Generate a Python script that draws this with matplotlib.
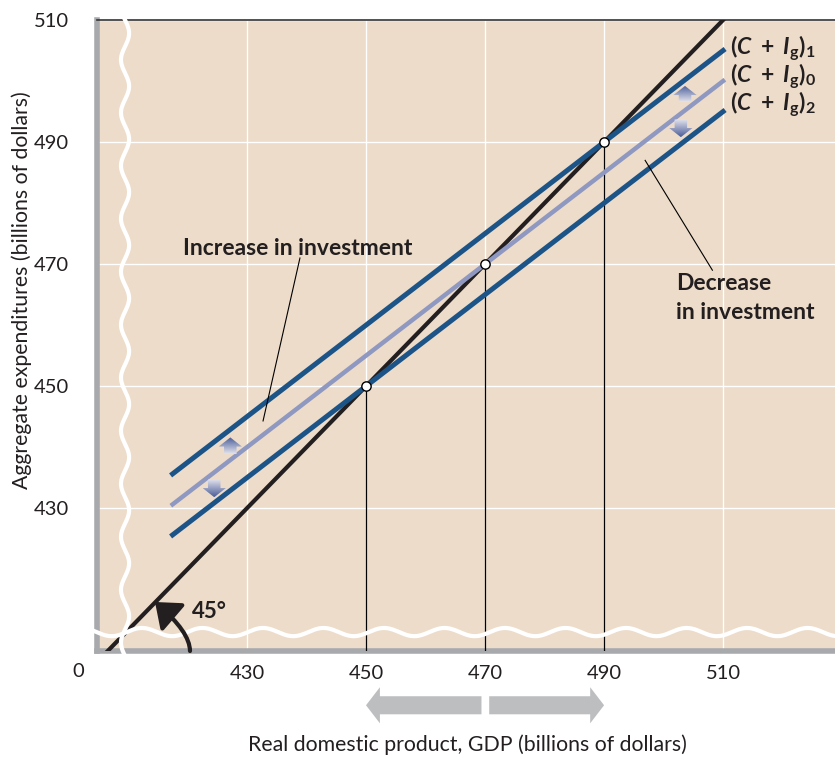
import numpy as np
import matplotlib.pyplot as plt
from matplotlib.patches import Polygon, FancyArrowPatch
from matplotlib.path import Path
from matplotlib.colors import LinearSegmentedColormap

plt.rcParams['font.family'] = ['Lato', 'DejaVu Sans']
plt.rcParams['mathtext.fontset'] = 'custom'
plt.rcParams['mathtext.rm'] = 'Lato'
plt.rcParams['mathtext.bf'] = 'Lato:bold'
plt.rcParams['mathtext.it'] = 'Lato:italic'
plt.rcParams['mathtext.bfit'] = 'Lato:bold:italic'

# data
gdp = [417.5, 510]
mpc = 0.75
base_eq = 470          # (C + Ig)0 crosses 45 deg line here
shift = 5              # vertical shift of the schedule
equilibria = [450, 470, 490]
x_ticks = [430, 450, 470, 490, 510]
y_ticks = [430, 450, 470, 490, 510]

BG = '#eddcc9'
DARK_BLUE = '#1c5488'
LIGHT_BLUE = '#8f98c0'
AX_GREY = '#a7a9ac'
INK = '#231f20'

fig = plt.figure(figsize=(8.35, 7.57), dpi=100)
ax = fig.add_axes([97 / 835, 106 / 757, 738 / 835, 631 / 757])
ax.set_facecolor(BG)

ax.spines['right'].set_visible(False)
ax.spines['top'].set_linewidth(1.2)
ax.spines['top'].set_color('#333333')
ax.spines['left'].set_linewidth(4)
ax.spines['left'].set_color(AX_GREY)
ax.spines['bottom'].set_linewidth(4)
ax.spines['bottom'].set_color(AX_GREY)

ax.set_xticks(x_ticks)
ax.set_yticks(y_ticks)
ax.tick_params(length=0, labelsize=14.5, colors=INK)
ax.tick_params(axis='y', pad=20)
ax.tick_params(axis='x', pad=10)
ax.grid(color='white', linewidth=1)
ax.set_axisbelow(True)

# 45 degree line
xx = np.array([404.8, 512])
ax.plot(xx, xx, color=INK, lw=3, zorder=4, solid_capstyle='butt')

# aggregate expenditure schedules
g = np.array(gdp)
ae0 = base_eq + mpc * (g - base_eq)
ax.plot(g, ae0 + shift, color=DARK_BLUE, lw=3.6, zorder=5)
ax.plot(g, ae0, color=LIGHT_BLUE, lw=3.2, zorder=5)
ax.plot(g, ae0 - shift, color=DARK_BLUE, lw=3.6, zorder=5)

# equilibrium drop lines and points
for e in equilibria:
    ax.plot([e, e], [406.6, e], color='black', lw=0.9, zorder=3)
ax.scatter(equilibria, equilibria, s=45, facecolor='white', edgecolor='black',
           linewidth=1.0, zorder=7)

# gradient shift arrows
cmap = LinearSegmentedColormap.from_list('arr', ['#e4e3ec', '#4a5e9a'])


def shift_arrow(xc, y0, y1, up=True):
    hw, sw, hh = 1.95, 1.05, 1.5
    if up:
        tip, tail = y1, y0
        base = tip - hh
    else:
        tip, tail = y0, y1
        base = tip + hh
    pts = [(xc - sw, tail), (xc - sw, base), (xc - hw, base), (xc, tip),
           (xc + hw, base), (xc + sw, base), (xc + sw, tail)]
    poly = Polygon(pts, closed=True, facecolor='none', edgecolor='none')
    ax.add_patch(poly)
    grad = np.linspace(0, 1, 50).reshape(-1, 1)
    if not up:
        grad = grad[::-1]
    im = ax.imshow(grad, extent=[xc - hw, xc + hw, min(y0, y1), max(y0, y1)],
                   origin='lower', cmap=cmap, aspect='auto', zorder=6)
    im.set_clip_path(poly)


shift_arrow(427.2, 438.9, 441.6, up=True)
shift_arrow(424.5, 431.8, 434.7, up=False)
shift_arrow(503.6, 496.5, 499.2, up=True)
shift_arrow(502.9, 490.8, 493.7, up=False)

ax.set_xlim(404.8, 528.8)
ax.set_ylim(406.6, 510)

# break marks
yv = np.linspace(1.0, -0.017, 400)
xv = 0.038 + 0.0055 * np.sin(2 * np.pi * (1.0 - yv) / 0.084)
ax.plot(xv, yv, color='white', lw=3, transform=ax.transAxes, clip_on=False, zorder=8)
xh = np.linspace(-0.022, 1.0, 600)
yh = 0.030 + 0.0065 * np.sin(2 * np.pi * (xh + 0.022) / 0.082 + 1.5)
ax.plot(xh, yh, color='white', lw=3, transform=ax.transAxes, clip_on=False, zorder=8)


# 45 degree arrow (pixel positions -> axes fraction)
def px2ax(px, py):
    return ((px - 97) / 738, (651 - py) / 631)


arc_path = Path([px2ax(190, 651), px2ax(190, 632), px2ax(155, 602)],
                [Path.MOVETO, Path.CURVE3, Path.CURVE3])
arc = FancyArrowPatch(path=arc_path, transform=ax.transAxes,
                      arrowstyle='-|>,head_length=0.7,head_width=0.55',
                      mutation_scale=20, color=INK, lw=3, zorder=9,
                      clip_on=False)
ax.add_patch(arc)
ax.text(0.128, 0.063, '45°', transform=ax.transAxes, fontsize=16,
        fontweight='bold', color=INK, va='center', ha='left', zorder=9)

# annotations
ax.text(419.2, 472.6, 'Increase in investment', fontsize=16.5, fontweight='bold',
        color=INK, va='center', ha='left')
ax.plot([438.9, 432.7], [471.0, 444.3], color='black', lw=0.8, zorder=6)
ax.text(502.1, 466.9, 'Decrease', fontsize=16.5, fontweight='bold',
        color=INK, va='center', ha='left')
ax.text(502.1, 462.1, 'in investment', fontsize=16.5, fontweight='bold',
        color=INK, va='center', ha='left')
ax.plot([496.9, 508.2], [487.0, 469.0], color='black', lw=0.8, zorder=6)

labels = [r'$\mathbf{(}\mathbfit{C}\mathbf{\ +\ }\mathbfit{I}_{\mathbf{g}}\mathbf{)}_{\mathbf{1}}$',
          r'$\mathbf{(}\mathbfit{C}\mathbf{\ +\ }\mathbfit{I}_{\mathbf{g}}\mathbf{)}_{\mathbf{0}}$',
          r'$\mathbf{(}\mathbfit{C}\mathbf{\ +\ }\mathbfit{I}_{\mathbf{g}}\mathbf{)}_{\mathbf{2}}$']
for lab, yl in zip(labels, [505.4, 500.8, 496.2]):
    ax.text(511.2, yl, lab, fontsize=16.5, color=INK, va='center', ha='left')

# origin label
ax.text(-0.026, -0.033, '0', transform=ax.transAxes, fontsize=14.5,
        color=INK, ha='center', va='center')

# GDP change arrows below the axis
trans = ax.get_xaxis_transform()
style = 'simple,head_length=0.5,head_width=1.3,tail_width=0.65'
ax.add_patch(FancyArrowPatch((469.4, -0.086), (450.0, -0.086), transform=trans,
                             arrowstyle=style, mutation_scale=20, color='#bcbec0',
                             lw=0, shrinkA=0, shrinkB=0, clip_on=False))
ax.add_patch(FancyArrowPatch((470.7, -0.086), (490.0, -0.086), transform=trans,
                             arrowstyle=style, mutation_scale=20, color='#bcbec0',
                             lw=0, shrinkA=0, shrinkB=0, clip_on=False))

fig.text(467 / 835, 1 - 745 / 757, 'Real domestic product, GDP (billions of dollars)',
         fontsize=15.3, color=INK, ha='center', va='center')
fig.text(22 / 835, 1 - 290 / 757, 'Aggregate expenditures (billions of dollars)',
         fontsize=15.3, color=INK, ha='center', va='center', rotation=90)

fig.savefig('out.png', dpi=100)
